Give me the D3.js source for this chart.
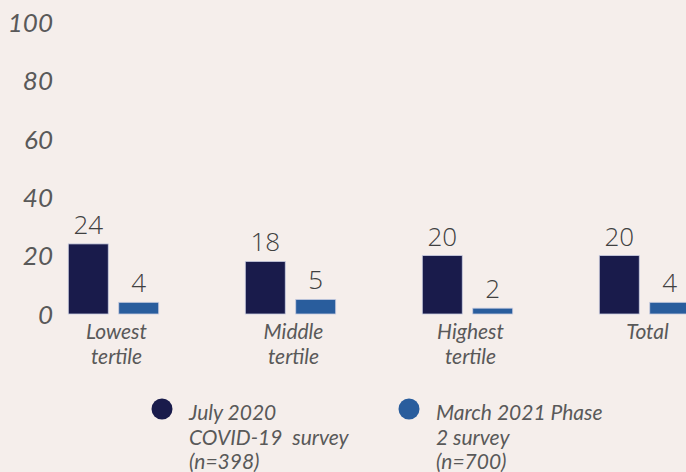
<!DOCTYPE html>
<html lang="en">
<head>
	<meta charset="utf-8">
	<title>Tertile bar chart</title>
	<script src="https://cdn.jsdelivr.net/npm/d3@7"></script>
	<style>
		body { margin: 0; background: #f5eeeb; }
		svg { display: block; }
	</style>
</head>
<body>
	<script>
		// data
		var categories = [["Lowest", "tertile"], ["Middle", "tertile"], ["Highest", "tertile"], ["Total"]];
		var seriesNames = ["July 2020 COVID-19 survey (n=398)", "March 2021 Phase 2 survey (n=700)"];
		var july2020 = [24, 18, 20, 20];
		var march2021 = [4, 5, 2, 4];
		var yTicks = [0, 20, 40, 60, 80, 100];
		var legendLines = [["July 2020", "COVID-19  survey", "(n=398)"], ["March 2021 Phase", "2 survey", "(n=700)"]];
		var colors = ["#191b4b", "#295d9d"];

		var w = 686, h = 472;

		var svg = d3.select("body").append("svg")
			.attr("width", w)
			.attr("height", h);

		// scales
		var x0 = d3.scaleBand()
			.domain(d3.range(categories.length))
			.range([25, 25 + 177 * categories.length])
			.padding(0);

		var x1 = d3.scaleBand()
			.domain([0, 1])
			.range([-45.2, 45.2])
			.paddingInner(0.208);

		var y = d3.scaleLinear()
			.domain([0, 100])
			.range([314, 22]);

		// y axis labels
		var yAxis = d3.axisLeft(y).tickValues(yTicks).tickSize(0).tickPadding(0);
		var gy = svg.append("g")
			.attr("transform", "translate(53,0)")
			.call(yAxis);
		gy.select(".domain").remove();
		gy.selectAll("text")
			.attr("font-family", "Lato, sans-serif")
			.attr("font-style", "italic")
			.attr("font-size", "26px")
			.attr("fill", "#595959")
			.attr("dy", "0.36em");

		var rows = categories.map(function (c, i) {
			return { i: i, vals: [july2020[i], march2021[i]] };
		});

		var groups = svg.selectAll("g.grp")
			.data(rows)
			.enter()
			.append("g")
			.attr("class", "grp")
			.attr("transform", function (d) {
				return "translate(" + (x0(d.i) + x0.bandwidth() / 2) + ",0)";
			});

		groups.selectAll("rect")
			.data(function (d) { return d.vals; })
			.enter()
			.append("rect")
			.attr("x", function (d, i) { return x1(i); })
			.attr("y", function (d) { return y(d); })
			.attr("width", x1.bandwidth())
			.attr("height", function (d) { return y(0) - y(d); })
			.attr("fill", function (d, i) { return colors[i]; })
			.attr("stroke", "#c9cde0")
			.attr("stroke-width", 0.8);

		groups.selectAll("text.val")
			.data(function (d) { return d.vals; })
			.enter()
			.append("text")
			.attr("class", "val")
			.text(function (d) { return d; })
			.attr("text-anchor", "middle")
			.attr("x", function (d, i) { return x1(i) + x1.bandwidth() / 2; })
			.attr("y", function (d) { return y(d) - 10; })
			.attr("font-family", "'Open Sans', sans-serif")
			.attr("font-weight", 300)
			.attr("font-size", "26px")
			.attr("fill", "#404040");

		// category labels
		groups.append("text")
			.attr("text-anchor", "middle")
			.attr("x", 3)
			.attr("font-family", "Lato, sans-serif")
			.attr("font-style", "italic")
			.attr("font-size", "21px")
			.attr("fill", "#595959")
			.selectAll("tspan")
			.data(function (d) { return categories[d.i]; })
			.enter()
			.append("tspan")
			.attr("x", 3)
			.attr("y", function (d, i) { return 339 + i * 25; })
			.text(function (d) { return d; });

		// legend
		var legendX = [162, 409];
		var legend = svg.selectAll("g.legend")
			.data(seriesNames)
			.enter()
			.append("g")
			.attr("class", "legend")
			.attr("transform", function (d, i) { return "translate(" + legendX[i] + ",409)"; });

		legend.append("circle")
			.attr("r", 10.5)
			.attr("fill", function (d, i) { return colors[i]; });

		legend.append("text")
			.attr("font-family", "Lato, sans-serif")
			.attr("font-style", "italic")
			.attr("font-size", "21px")
			.attr("fill", "#595959")
			.selectAll("tspan")
			.data(function (d, i) { return legendLines[i]; })
			.enter()
			.append("tspan")
			.attr("x", 27)
			.attr("y", function (d, i) { return 11 + i * 24.5; })
			.attr("xml:space", "preserve")
			.text(function (d) { return d; });
	</script>
</body>
</html>
